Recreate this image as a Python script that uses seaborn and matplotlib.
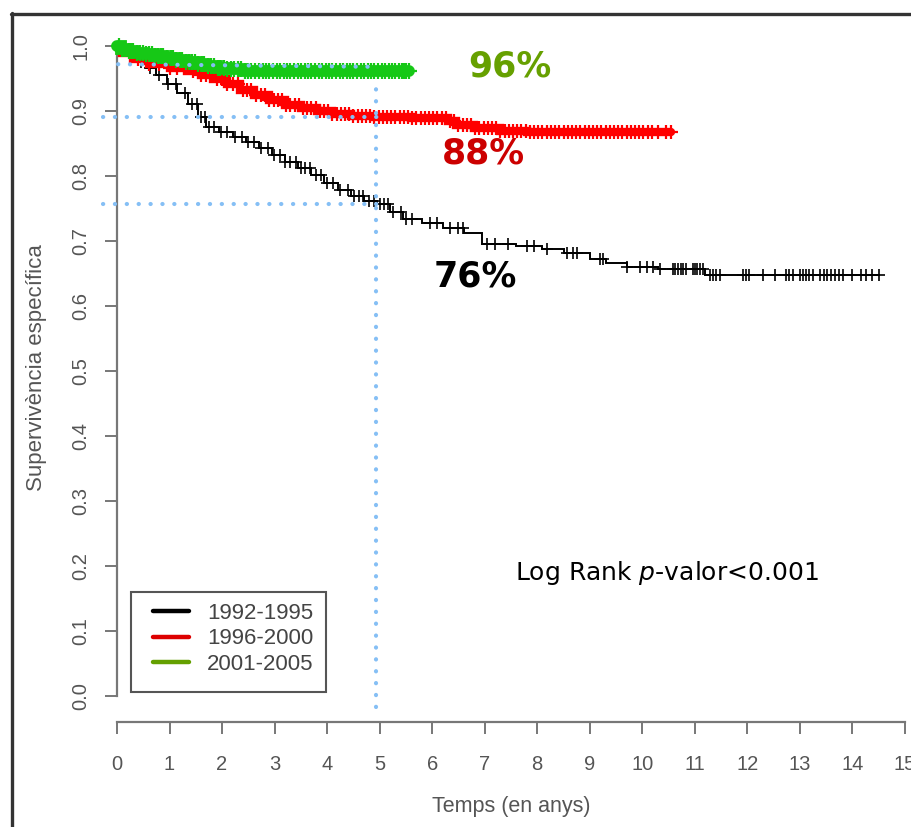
import numpy as np
import pandas as pd
import matplotlib
matplotlib.use("Agg")
import matplotlib.pyplot as plt
from matplotlib.lines import Line2D
from matplotlib.patches import Rectangle
import seaborn as sns

# ---------------- data ----------------
groups = ["1992-1995", "1996-2000", "2001-2005"]

black_t = [0, 0.15, 0.35, 0.55, 0.75, 0.95, 1.15, 1.35, 1.55, 1.7, 1.95, 2.2, 2.45, 2.7,
           2.95, 3.2, 3.45, 3.7, 3.95, 4.2, 4.45, 4.7, 4.95, 5.2, 5.45, 5.8, 6.2, 6.6,
           6.95, 7.6, 8.1, 8.5, 9.0, 9.3, 9.7, 10.3, 11.2, 14.5]
black_s = [1.0, 0.986, 0.976, 0.966, 0.956, 0.942, 0.928, 0.911, 0.891, 0.876, 0.868,
           0.86, 0.852, 0.843, 0.832, 0.821, 0.812, 0.802, 0.79, 0.778, 0.77, 0.762,
           0.757, 0.744, 0.734, 0.727, 0.72, 0.712, 0.696, 0.692, 0.688, 0.681, 0.673,
           0.666, 0.66, 0.657, 0.648, 0.648]
black_cens = [0.25, 0.45, 0.62, 0.8, 0.98, 1.12, 1.3, 1.42, 1.52, 1.6, 1.68, 1.76, 1.85,
              1.98, 2.1, 2.25, 2.38, 2.5, 2.6, 2.75, 2.88, 2.98, 3.1, 3.2, 3.3, 3.4, 3.5,
              3.58, 3.68, 3.78, 3.88, 4.0, 4.12, 4.25, 4.4, 4.52, 4.6, 4.68, 4.8, 4.9,
              5.0, 5.08, 5.15, 5.25, 5.4, 5.5, 5.62, 5.96, 6.09, 6.34, 6.5, 6.59, 7.04,
              7.2, 7.45, 7.8, 7.93, 8.18, 8.56, 8.69, 8.75, 9.19, 9.26, 9.7, 9.96, 10.08,
              10.2, 10.33, 10.58, 10.63, 10.68, 10.73, 10.78, 10.84, 10.96, 11.0, 11.05,
              11.1, 11.15, 11.28, 11.34, 11.4, 11.47, 11.91, 11.97, 12.04, 12.3, 12.52,
              12.74, 12.8, 12.87, 13.0, 13.06, 13.12, 13.18, 13.25, 13.38, 13.45, 13.52,
              13.6, 13.67, 13.75, 13.82, 14.0, 14.16, 14.26, 14.38, 14.5]

red_t = [0, 0.1, 0.3, 0.6, 1.0, 1.33, 1.6, 1.83, 2.1, 2.35, 2.6, 2.9, 3.2, 3.5, 3.8,
         4.1, 4.45, 4.9, 5.6, 6.3, 6.45, 6.8, 7.3, 7.8, 10.55]
red_s = [1.0, 0.99, 0.98, 0.973, 0.966, 0.961, 0.956, 0.95, 0.941, 0.933, 0.925, 0.917,
         0.91, 0.904, 0.9, 0.896, 0.893, 0.891, 0.889, 0.885, 0.879, 0.874, 0.87, 0.867,
         0.867]
red_cens = [0.4, 0.6, 0.8, 1.0, 1.15, 1.3, 1.45, 1.6, 1.7, 1.8, 1.9, 2.0, 2.1, 2.2, 2.3,
            2.4, 2.48, 2.56, 2.65, 2.74, 2.82, 2.9, 2.98, 3.06, 3.14, 3.22, 3.3, 3.38,
            3.46, 3.54, 3.62, 3.7, 3.78, 3.86, 3.94, 4.02, 4.1, 4.18, 4.26, 4.34, 4.42,
            4.5, 4.58, 4.66, 4.74, 4.82, 4.9, 4.98, 5.06, 5.14, 5.22, 5.3, 5.38, 5.46,
            5.54, 5.62, 5.7, 5.78, 5.86, 5.94, 6.02, 6.1, 6.18, 6.26, 6.34, 6.42, 6.5,
            6.58, 6.66, 6.74, 6.82, 6.9, 6.98, 7.06, 7.14, 7.22, 7.3, 7.38, 7.46, 7.54,
            7.62, 7.7, 7.78, 7.86, 7.94, 8.02, 8.1, 8.18, 8.26, 8.34, 8.42, 8.5, 8.58,
            8.66, 8.74, 8.82, 8.9, 8.98, 9.06, 9.14, 9.22, 9.3, 9.38, 9.46, 9.54, 9.62,
            9.7, 9.78, 9.86, 9.94, 10.02, 10.1, 10.18, 10.3, 10.45, 10.55]

green_t = [0, 0.08, 0.2, 0.35, 0.5, 0.7, 0.9, 1.1, 1.3, 1.5, 1.7, 1.9, 2.1, 2.4, 5.55]
green_s = [1.0, 0.996, 0.993, 0.99, 0.987, 0.984, 0.981, 0.978, 0.975, 0.972, 0.969,
           0.966, 0.964, 0.962, 0.962]
green_cens = [0.03, 0.1, 0.15, 0.22, 0.27, 0.31, 0.38, 0.44, 0.49, 0.55, 0.6, 0.66, 0.73,
              0.78, 0.84, 0.88, 0.95, 1.02, 1.06, 1.13, 1.19, 1.24, 1.31, 1.37, 1.42,
              1.48, 1.55, 1.61, 1.66, 1.73, 1.79, 1.85, 1.92, 1.97, 2.04, 2.1, 2.17,
              2.23, 2.3, 2.36, 2.43, 2.5, 2.56, 2.63, 2.7, 2.77, 2.83, 2.9, 2.97, 3.04,
              3.1, 3.17, 3.24, 3.3, 3.37, 3.44, 3.5, 3.57, 3.64, 3.7, 3.77, 3.84, 3.9,
              3.97, 4.04, 4.1, 4.17, 4.24, 4.3, 4.37, 4.44, 4.5, 4.57, 4.64, 4.7, 4.77,
              4.84, 4.9, 4.97, 5.04, 5.1, 5.17, 5.24, 5.3, 5.37, 5.42, 5.47, 5.5, 5.55]

pct_labels = ["76%", "88%", "96%"]
x_ticks = list(range(0, 16))
y_ticks = [0.0, 0.1, 0.2, 0.3, 0.4, 0.5, 0.6, 0.7, 0.8, 0.9, 1.0]
five_years = 5
pvalue_text = "Log Rank $\\mathit{p}$-valor<0.001"

# ---------------- styles ----------------
curve_colors = {"1992-1995": "#000000", "1996-2000": "#FF0000", "2001-2005": "#16C816"}
legend_colors = ["#000000", "#DD0000", "#64A000"]
label_colors = ["#000000", "#CC0000", "#66A000"]
axis_grey = "#777777"
text_grey = "#555555"

sns.set_style("white")
plt.rcParams["font.family"] = ["Liberation Sans", "DejaVu Sans"]
plt.rcParams["mathtext.fontset"] = "dejavusans"

W, H = 911, 827
fig = plt.figure(figsize=(W / 100, H / 100), dpi=100)
fig.patch.set_facecolor("white")

xlim = (-0.05, 15.1)
ylim = (-0.04, 1.04)
ppu = 52.53
left_px = 117 + xlim[0] * ppu
right_px = 117 + xlim[1] * ppu
top_px, bot_px = 20, 722
ax = fig.add_axes([left_px / W, 1 - bot_px / H, (right_px - left_px) / W, (bot_px - top_px) / H])
ax.set_facecolor("white")

series = {
    "1992-1995": (black_t, black_s, black_cens),
    "1996-2000": (red_t, red_s, red_cens),
    "2001-2005": (green_t, green_s, green_cens),
}
rows = []
for g, (t, s, _) in series.items():
    for ti, si in zip(t, s):
        rows.append({"group": g, "time": ti, "surv": si})
df = pd.DataFrame(rows)


def step_value(t, s, x):
    idx = np.searchsorted(np.asarray(t), np.asarray(x), side="right") - 1
    return np.asarray(s)[np.clip(idx, 0, len(s) - 1)]


line_w = {"1992-1995": 1.4, "1996-2000": 6.0, "2001-2005": 8.5}
mark_kw = {"1992-1995": (9, 1.2), "1996-2000": (10, 1.6), "2001-2005": (11, 1.6)}
for g in ["1992-1995", "1996-2000", "2001-2005"]:
    sub = df[df["group"] == g]
    sns.lineplot(data=sub, x="time", y="surv", color=curve_colors[g], estimator=None,
                 sort=False, drawstyle="steps-post", linewidth=line_w[g], ax=ax,
                 legend=False, clip_on=False, zorder=3, solid_joinstyle="miter")
    t, s, c = series[g]
    cy = step_value(t, s, c)
    ms, mew = mark_kw[g]
    ax.plot(c, cy, ls="none", marker="+", markersize=ms, markeredgewidth=mew,
            color=curve_colors[g], clip_on=False, zorder=3)

# five-year dotted reference lines
dot_kw = dict(color="#85BFF5", linewidth=3.0, linestyle=(0, (0.05, 2.8)),
              dash_capstyle="round", clip_on=False, zorder=5)
s5_black = step_value(black_t, black_s, five_years)
s5_red = step_value(red_t, red_s, five_years)
s5_green = step_value(green_t, green_s, five_years)
ax.plot([-0.27, five_years], [s5_black, s5_black], **dot_kw)
ax.plot([-0.27, five_years], [s5_red, s5_red], **dot_kw)
ax.plot([0.02, five_years - 0.1], [s5_green + 0.01, s5_green + 0.006], **dot_kw)
ax.plot([five_years - 0.07, five_years - 0.07], [-0.017, 0.945], **dot_kw)

# percentage labels
for (x, y), lab, col in zip([(6.83, 0.645), (6.97, 0.834), (7.48, 0.968)], pct_labels,
                            label_colors):
    ax.text(x, y, lab, color=col, fontsize=25, fontweight="bold", family="DejaVu Sans",
            ha="center", va="center")

ax.text(10.47, 0.189, pvalue_text, color="black", fontsize=18, family="DejaVu Sans",
        ha="center", va="center")

# axes styling
ax.set_xlim(*xlim)
ax.set_ylim(*ylim)
ax.set_xticks(x_ticks)
ax.set_yticks(y_ticks)
ax.set_xticklabels([str(v) for v in x_ticks])
ax.set_yticklabels([f"{v:.1f}" for v in y_ticks])
for side in ["top", "right"]:
    ax.spines[side].set_visible(False)
ax.spines["left"].set_position(("data", 0))
ax.spines["left"].set_bounds(0, 1)
ax.spines["bottom"].set_bounds(0, 15)
for side in ["left", "bottom"]:
    ax.spines[side].set_color(axis_grey)
    ax.spines[side].set_linewidth(1.6)
ax.tick_params(axis="both", which="major", length=8.6, width=1.4, color=axis_grey,
               labelcolor=text_grey, labelsize=14.5, direction="out",
               bottom=True, left=True)
ax.tick_params(axis="y", pad=10.5, labelrotation=90)
ax.tick_params(axis="x", pad=15)
for lab in ax.get_yticklabels():
    lab.set_va("center")

ax.set_xlabel("Temps (en anys)", fontsize=15.5, color=text_grey)
ax.set_ylabel("Supervivència específica", fontsize=16, color=text_grey)
ax.xaxis.set_label_coords((511 - left_px) / (right_px - left_px), -(796 - bot_px) / (bot_px - top_px))
ax.yaxis.set_label_coords((47 - left_px) / (right_px - left_px), (bot_px - 368) / (bot_px - top_px))

# legend (frame drawn separately)
fig.add_artist(Rectangle((131 / W, 1 - 692 / H), (326 - 131) / W, (692 - 592) / H,
                         transform=fig.transFigure, facecolor="white", edgecolor="#555555",
                         linewidth=1.5, zorder=4))
handles = [Line2D([0], [0], color=c, linewidth=3.2) for c in legend_colors]
leg = fig.legend(handles, groups, loc="upper left",
                 bbox_to_anchor=(153 / W, 1 - 603 / H), frameon=False, fontsize=16,
                 handlelength=1.62, handletextpad=0.8, labelspacing=0.2, borderpad=0,
                 borderaxespad=0)
leg.set_zorder(6)
for txt in leg.get_texts():
    txt.set_color("#444444")

# outer frame (left and top edges visible)
fig.add_artist(Line2D([11.5 / W, 11.5 / W], [0, 1 - 13 / H], transform=fig.transFigure,
                      color="#333333", linewidth=2.4))
fig.add_artist(Line2D([10.5 / W, 1], [1 - 13.5 / H, 1 - 13.5 / H], transform=fig.transFigure,
                      color="#333333", linewidth=2.4))

fig.savefig("out.png", dpi=100)
